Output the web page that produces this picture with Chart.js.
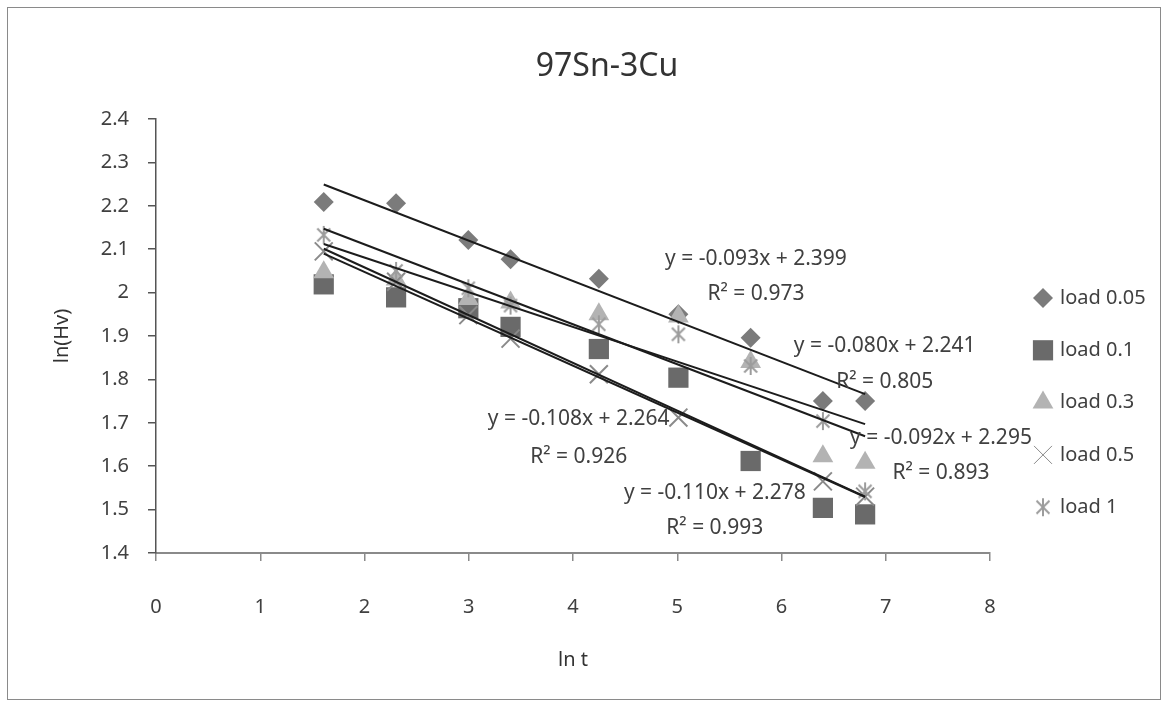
<!DOCTYPE html>
<html>
<head>
<meta charset="utf-8">
<title>97Sn-3Cu</title>
<script src="https://cdn.jsdelivr.net/npm/chart.js@4.4.1/dist/chart.umd.min.js"></script>
<style>
  html,body{margin:0;padding:0;background:#fff}
  #wrap{position:relative;width:1175px;height:708px}
</style>
</head>
<body>
<div id="wrap"><canvas id="chart" width="1175" height="708"></canvas></div>
<script>
// ======= Data =======
const lnT = [1.609, 2.303, 2.996, 3.401, 4.248, 5.011, 5.704, 6.397, 6.802];
const load005 = [2.209, 2.206, 2.121, 2.077, 2.032, 1.950, 1.896, 1.750, 1.750];
const load01  = [2.019, 1.989, 1.964, 1.921, 1.870, 1.804, 1.612, 1.504, 1.489];
const load03  = [2.047, 2.030, 1.985, 1.977, 1.950, 1.945, 1.840, 1.623, 1.608];
const load05  = [2.095, 2.025, 1.948, 1.894, 1.812, 1.712, null, 1.565, 1.530];   // no mark visible at ln t 5.7
const load1   = [2.133, 2.050, 2.010, 1.970, 1.927, 1.904, 1.831, 1.704, 1.542];
const seriesNames = ['load 0.05', 'load 0.1', 'load 0.3', 'load 0.5', 'load 1'];

// trendlines: value at first and last ln t
const trendStart = [2.249, 2.090, 2.112, 2.101, 2.147];
const trendEnd   = [1.766, 1.529, 1.697, 1.530, 1.669];
const equations = ['y = -0.093x + 2.399', 'y = -0.108x + 2.264', 'y = -0.080x + 2.241', 'y = -0.110x + 2.278', 'y = -0.092x + 2.295'];
const rSquared  = ['R\u00b2 = 0.973', 'R\u00b2 = 0.926', 'R\u00b2 = 0.805', 'R\u00b2 = 0.993', 'R\u00b2 = 0.893'];

const xTickVals = [0, 1, 2, 3, 4, 5, 6, 7, 8];
const yTickVals = [1.4, 1.5, 1.6, 1.7, 1.8, 1.9, 2.0, 2.1, 2.2, 2.3, 2.4];

// ======= Styling =======
Chart.defaults.font.family = "'Noto Sans', sans-serif";
Chart.defaults.color = '#404040';

// equation label anchors in data units: [x, y of equation, y of R²]
const eqPos = [[5.755, 2.077, 1.996], [4.055, 1.708, 1.622], [6.99, 1.876, 1.793], [5.36, 1.538, 1.458], [7.53, 1.666, 1.585]];

// excel style asterisk: an X with a vertical bar
function makeAsterisk(size, color){
  const c=document.createElement('canvas'); c.width=c.height=size;
  const g=c.getContext('2d'); g.strokeStyle=color; g.lineWidth=2;
  const m=size/2, r=size/2-1, d=r*0.72;
  g.beginPath();
  g.moveTo(m-d,m-d); g.lineTo(m+d,m+d);
  g.moveTo(m+d,m-d); g.lineTo(m-d,m+d);
  g.moveTo(m,m-r); g.lineTo(m,m+r);
  g.stroke();
  return c;
}

const marks = [
  {data: load005, style: 'rectRot',   r: 10,   color: '#7b7b7b', order: 5},
  {data: load01,  style: 'rect',      r: 14.3, color: '#6a6a6a', order: 4},
  {data: load03,  style: 'triangle',  r: 12,   color: '#b3b3b3', order: 3},
  {data: load05,  style: 'crossRot',  r: 12.7, color: '#8a8a8a', order: 2},
  {data: load1,   style: makeAsterisk(20, '#9c9c9c'), r: 10, color: '#9c9c9c', order: 1}
];

const datasets = [];
marks.forEach((m,i)=>{
  datasets.push({
    label: seriesNames[i],
    data: lnT.map((x,j)=>({x, y: m.data[j]})),
    showLine: false,
    pointStyle: m.style,
    pointRadius: m.r,
    pointHoverRadius: m.r,
    pointBackgroundColor: m.color,
    pointBorderColor: m.color,
    pointBorderWidth: (m.style==='crossRot') ? 2 : 0,
    order: m.order
  });
});
marks.forEach((m,i)=>{
  datasets.push({
    label: 'trend ' + seriesNames[i],
    data: [{x: lnT[0], y: trendStart[i]}, {x: lnT[lnT.length-1], y: trendEnd[i]}],
    showLine: true,
    pointRadius: 0,
    borderColor: '#1c1c1c',
    borderWidth: 2,
    order: 0
  });
});

// frame, title, equation labels and legend
const decor = {
  id: 'decor',
  beforeDraw(chart){
    const ctx=chart.ctx;
    ctx.save();
    ctx.fillStyle='#fff'; ctx.fillRect(0,0,chart.width,chart.height);
    ctx.strokeStyle='#8a8a8a'; ctx.lineWidth=1;
    ctx.strokeRect(7.5,7.5,1153,692);
    ctx.restore();
  },
  afterDraw(chart){
    const ctx=chart.ctx, xs=chart.scales.x, ys=chart.scales.y;
    ctx.save();
    ctx.fillStyle='#333';
    ctx.textAlign='center'; ctx.textBaseline='middle';
    ctx.font="32px 'Noto Sans'";
    ctx.fillText('97Sn-3Cu', 607, 67);

    ctx.fillStyle='#404040';
    ctx.font="21px 'Noto Sans'";
    eqPos.forEach((p,i)=>{
      const px=xs.getPixelForValue(p[0]);
      ctx.fillText(equations[i], px, ys.getPixelForValue(p[1]));
      ctx.fillText(rSquared[i], px, ys.getPixelForValue(p[2]));
    });

    // legend
    ctx.font="20px 'Noto Sans'";
    ctx.textAlign='left';
    marks.forEach((m,i)=>{
      const y=298+i*52.3;
      ctx.fillStyle=m.color; ctx.strokeStyle=m.color;
      Chart.helpers.drawPoint(ctx, {pointStyle: m.style, radius: m.r, rotation: 0, borderWidth: m.style==='crossRot'?2:0}, 1043, y);
      ctx.fillStyle='#404040';
      ctx.fillText(seriesNames[i], 1060, y);
    });
    ctx.restore();
  }
};

new Chart(document.getElementById('chart'), {
  type: 'scatter',
  data: {datasets},
  options: {
    responsive: false,
    animation: false,
    layout: {padding: {top: 119, right: 185, bottom: 0, left: 0}},
    plugins: {legend: {display: false}, title: {display: false}, tooltip: {enabled: false}},
    scales: {
      x: {
        type: 'linear', min: 0, max: 8,
        afterBuildTicks: s => { s.ticks = xTickVals.map(v=>({value: v})); },
        afterFit: s => { s.height = 155; },
        ticks: {padding: 34, color: '#404040', font: {size: 20}, callback: v => String(v)},
        grid: {drawOnChartArea: false, drawTicks: true, tickLength: 8, color: '#8a8a8a', lineWidth: 1.5},
        border: {display: true, color: '#8a8a8a', width: 2},
        title: {display: true, text: 'ln t', color: '#333', font: {size: 20}, padding: {bottom: 36}}
      },
      y: {
        type: 'linear', min: 1.4, max: 2.4,
        afterBuildTicks: s => { s.ticks = yTickVals.map(v=>({value: v})); },
        afterFit: s => { s.width = 156; },
        ticks: {padding: 19, color: '#404040', font: {size: 20}, callback: v => String(Number(v.toFixed(1)))},
        grid: {drawOnChartArea: false, drawTicks: true, tickLength: 8, color: '#555', lineWidth: 1.5},
        border: {display: true, color: '#555', width: 1.5},
        title: {display: true, text: 'ln(Hv)', color: '#333', font: {size: 20}, padding: {top: 50}}
      }
    }
  },
  plugins: [decor]
});
</script>
</body>
</html>
